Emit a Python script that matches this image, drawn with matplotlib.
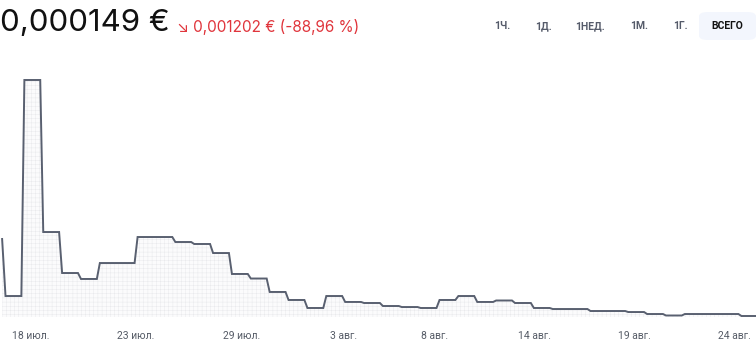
import matplotlib
matplotlib.use("Agg")
import matplotlib.pyplot as plt
from matplotlib.patches import FancyBboxPatch
import numpy as np

# ---- data ----
start_price = 0.001351
daily_prices = [0.000461, 0.003833, 0.001460, 0.000820, 0.000727, 0.000976, 0.000976,
                0.001382, 0.001382, 0.001304, 0.001273, 0.001132, 0.000805, 0.000734,
                0.000524, 0.000399, 0.000274, 0.000461, 0.000368, 0.000352, 0.000305,
                0.000289, 0.000274, 0.000399, 0.000461, 0.000368, 0.000391, 0.000352,
                0.000274, 0.000258, 0.000258, 0.000227, 0.000227, 0.000211, 0.000180,
                0.000157, 0.000180, 0.000180, 0.000180, 0.000149]
tick_positions = [1.4, 7.0, 12.6, 18.0, 22.8, 28.1, 33.4, 38.7]
tick_labels = ["18 июл.", "23 июл.", "29 июл.", "3 авг.", "8 авг.", "14 авг.", "19 авг.", "24 авг."]
price_text = "0,000149 €"
change_text = "↘ 0,001202 € (-88,96 %)"
buttons = ["1Ч.", "1Д.", "1НЕД.", "1М.", "1Г.", "ВСЕГО"]
button_x = [502, 543, 590, 639, 680, 727]

# ---- build step series ----
xs = [-0.1]
ys = [start_price]
eps = 0.08
for k, v in enumerate(daily_prices):
    xs += [k + eps, k + 1 - eps]
    ys += [v, v]
xs = np.array(xs)
ys = np.array(ys)

W, H = 756, 359
fig = plt.figure(figsize=(W / 100, H / 100), dpi=100)
plt.rcParams['font.family'] = ['Inter', 'DejaVu Sans']

ax_bottom, ax_top = 317, 60
ax = fig.add_axes([0, (H - ax_bottom) / H, 1, (ax_bottom - ax_top) / H])
px_per_day = 18.87
x0 = 4
ax.set_xlim((0 - x0) / px_per_day, (W - x0) / px_per_day)
ymin = 0.000149 - 1 * 1.561e-5
ymax = 0.000149 + 256 * 1.561e-5
ax.set_ylim(ymin, ymax)

plt.rcParams['hatch.linewidth'] = 0.3
ax.fill_between(xs, ys, ymin, facecolor='#fbfbfc', edgecolor='#e6e7ea',
                hatch='++++', linewidth=0)
ax.plot(xs, ys, color='#596070', lw=1.4, solid_joinstyle='miter')

for s in ax.spines.values():
    s.set_visible(False)
ax.set_yticks([])
ax.set_xticks(tick_positions)
ax.set_xticklabels(tick_labels, fontsize=7.5, color='#555b66',
                   family=['Roboto', 'DejaVu Sans'])
ax.tick_params(axis='x', length=0, pad=10)

# header
fig.text(0 / W, 1 - 23 / H, price_text, fontsize=22.5, color='#111111',
         va='center', ha='left', family=['Inter', 'DejaVu Sans'])
fig.text(177 / W, 1 - 27 / H, change_text, fontsize=11, color='#e0353c',
         va='center', ha='left', family=['Inter', 'DejaVu Sans'])

box = FancyBboxPatch((699 / W, 1 - 40 / H), 57 / W, 28 / H,
                     boxstyle="round,pad=0,rounding_size=0.012",
                     transform=fig.transFigure, facecolor='#f3f6fd',
                     edgecolor='none')
fig.patches.append(box)
for b, bx in zip(buttons, button_x):
    col = '#111111' if b == "ВСЕГО" else '#555b6a'
    fig.text(bx / W, 1 - 26 / H, b, fontsize=7.5, color=col, va='center',
             ha='center', fontweight='bold', family=['Roboto', 'DejaVu Sans'])

fig.savefig("out.png", dpi=100)
